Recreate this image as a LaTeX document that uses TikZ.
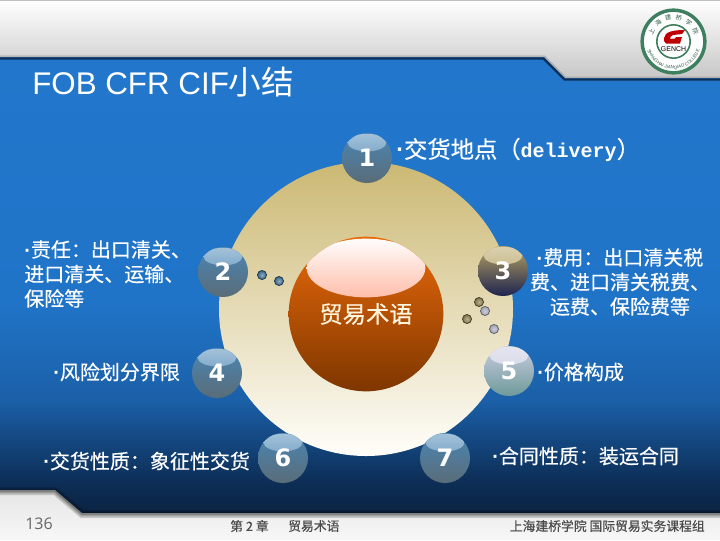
\documentclass[tikz,border=0pt]{standalone}
\usepackage{fontspec}
\setmainfont{Noto Sans CJK SC}
\setmonofont{Liberation Mono}
\newfontfamily\headfont{Liberation Sans}
\newfontfamily\digitfont{DejaVu Sans}
\newfontfamily\pagefont{Open Sans}
\newfontfamily\notefont{Noto Sans CJK SC}[FakeBold=0.4]
\newcommand{\dotmark}{{\headfont\textbf{·}}}
\usetikzlibrary{decorations.text}

\definecolor{ballBlue}{HTML}{4A86B4}
\definecolor{ballGrey}{HTML}{5A6C78}
\definecolor{ballTan}{HTML}{B5A261}
\definecolor{ballNavy}{HTML}{1E2450}
\definecolor{ballLilac}{HTML}{C9CCE0}
\definecolor{ballTeal}{HTML}{6F9A9A}
\definecolor{sealGreen}{HTML}{3E7F60}
\definecolor{skyDeep}{HTML}{0A2240}
\definecolor{skyDark}{HTML}{0D2F58}
\definecolor{skyMid}{HTML}{1B60A8}
\definecolor{skyBlue}{HTML}{2074C8}
\definecolor{skyTop}{HTML}{2277CC}
\definecolor{plateTop}{HTML}{CBB873}
\definecolor{plateMid}{HTML}{E9DFBB}
\definecolor{plateLow}{HTML}{FFFEFA}
\definecolor{hubTop}{HTML}{E96A0A}
\definecolor{hubMid}{HTML}{D85A04}
\definecolor{hubLow}{HTML}{7E3600}
\definecolor{hubGlow}{HTML}{FF5A28}
\definecolor{hubPink}{HTML}{FFA090}
\definecolor{hubText}{HTML}{FFF5DD}

\pgfdeclareverticalshading{slideblue}{100bp}{color(0bp)=(skyDeep);color(25bp)=(skyDeep);color(28.8bp)=(skyDark);color(37.4bp)=(skyMid);color(48bp)=(skyBlue);color(75bp)=(skyTop);color(100bp)=(skyTop)}

\tikzset{
  note/.style={text=white,inner sep=0pt,font=\notefont\fontsize{15pt}{18.4pt}\selectfont},
  ball/.style 2 args={circle,minimum size=37.5pt,inner sep=0pt,text=white,
    font=\digitfont\bfseries\fontsize{18pt}{18pt}\selectfont,
    top color=#1,bottom color=#2,path picture={
      \shade[top color=#1!50!white,middle color=white!85!#1,bottom color=#1] ([yshift=-7.2pt]path picture bounding box.north) ellipse [x radius=14.6pt,y radius=6.6pt];}},
  speck/.style={circle,minimum size=6.8pt,inner sep=0pt,inner color=#1!55!white,outer color=#1,draw=#1!60!black,line width=0.6pt},
  footer/.style={text=black!70,inner sep=0pt,font=\notefont\fontsize{9.6pt}{11pt}\selectfont},
}

\begin{document}
\begin{tikzpicture}[x=0.75pt,y=0.75pt,yscale=-1,xscale=1]
\useasboundingbox (0,0) rectangle (720,540);

% slide background
\shade[shading=slideblue] (0,50) rectangle (720,515);
\shade[top color=white,bottom color=black!22] (0,0) -- (720,0) -- (720,78) -- (565,78) -- (544,57) -- (0,57) -- cycle;
\draw[black!25,line width=1.5pt] (0,0) -- (720,0);
\draw[black!35,line width=0.75pt] (0,56) -- (544.5,56) -- (565.5,77) -- (720,77);
\draw[skyDark,line width=1.6pt] (0,58.5) -- (543.5,58.5) -- (564.5,79.5) -- (720,79.5);
\shade[top color=black!10,bottom color=black!3] (0,490) -- (55,490) -- (82,513) -- (720,513) -- (720,540) -- (0,540) -- cycle;
\foreach \wd in {6,4,2,1}
  \draw[black,opacity=0.15,line width=\wd pt] (0,491) -- (55,491) -- (82,514) -- (720,514);

% college seal
\node[circle,minimum size=47pt,inner sep=0pt,fill=white,draw=sealGreen,line width=2.6pt] (seal) at (673.5,41.5) {};
\node[circle,minimum size=25pt,inner sep=0pt,fill=white,draw=sealGreen,line width=1.2pt] (sealcore) at (673.5,41.5) {};
\foreach \ang/\ch in {155/上,129/海,103/建,77/桥,51/学,25/院}
  \node[text=sealGreen!70!black,rotate=\ang-90,inner sep=0pt,font=\fontsize{4.6pt}{5pt}\selectfont] at ([shift={(-\ang:18.2pt)}]seal.center) {\ch};
\path[postaction={decorate,decoration={text along path,text align=center,
  text={|\headfont\fontsize{3.4pt}{4pt}\selectfont\color{sealGreen!70!black}|SHANGHAI JIANQIAO COLLEGE}}}]
  ([shift={(-195:20.6pt)}]seal.center) arc[start angle=-195,end angle=-345,radius=20.6pt];
\fill[red!75!black] (664,38) .. controls (665,32) and (672,30) .. (685,30) -- (682,34) -- (673,35) .. controls (671,36) and (670,37) .. (670,39) -- (675,38.5) -- (676,37) -- (682,37) -- (680,43.5) -- (666,43.5) .. controls (664,43) and (664,40) .. (664,38) -- cycle;
\node[text=black,inner sep=0pt,font=\headfont\fontsize{5.2pt}{6pt}\selectfont] (sealname) at (673.5,49) {GENCH};

% title
\node[text=white,inner sep=0pt,anchor=base west,font=\fontsize{23.5pt}{26pt}\selectfont] (title) at (32,94) {{\headfont FOB CFR CIF}\fontsize{24.5pt}{26pt}\selectfont 小结};

% big plate and middle sphere
\node[circle,minimum size=220.5pt,inner sep=0pt,top color=plateTop,middle color=plateMid,bottom color=plateLow] (plate) at (366,309) {};
\node[circle,minimum size=116pt,inner sep=0pt,top color=hubTop,middle color=hubMid,bottom color=hubLow,text=hubText,font=\notefont\fontsize{17.5pt}{20pt}\selectfont,path picture={
    \shade[top color=white,middle color=hubPink,bottom color=hubGlow] ([yshift=-23.5pt]path picture bounding box.north) ellipse [x radius=44.5pt,y radius=22pt];}] (hub) at (366,314) {贸易术语};

% six small dots
\node[speck=ballBlue!75!black] (dotA) at (262,275) {};
\node[speck=ballBlue!75!black] (dotB) at (279,281) {};
\node[speck=ballTan!70!black] (dotC) at (479,302) {};
\node[speck=ballLilac!80!black] (dotD) at (485,311) {};
\node[speck=ballTan!70!black] (dotE) at (467,319) {};
\node[speck=ballLilac!80!black] (dotF) at (494,329) {};

% numbered balls
\node[ball={ballBlue}{ballGrey}] (one) at (367,158) {1};
\node[ball={ballBlue}{ballGrey}] (two) at (223,272) {2};
\node[ball={ballTan}{ballNavy}] (three) at (503,271) {3};
\node[ball={ballBlue}{ballGrey}] (four) at (217,373) {4};
\node[ball={ballLilac}{ballTeal}] (five) at (509,371) {5};
\node[ball={ballBlue}{ballGrey}] (six) at (283,458) {6};
\node[ball={ballBlue}{ballGrey}] (seven) at (445,458) {7};

% text nodes
\node[note,anchor=west,font=\notefont\fontsize{17.5pt}{20pt}\selectfont] (place) at (396,150) {\dotmark 交货地点（{\ttfamily\bfseries\fontsize{15pt}{20pt}\selectfont delivery}）};
\node[note,anchor=north west,align=left] (duty) at (24,240) {\dotmark 责任：出口清关、\\进口清关、运输、\\保险等};
\node[note,align=center] (cost) at (620,282) {\dotmark 费用：出口清关税\\费、进口清关税费、\\运费、保险费等};
\node[note,anchor=west] (risk) at (53,372) {\dotmark 风险划分界限};
\node[note,anchor=west] (price) at (537,372) {\dotmark 价格构成};
\node[note,anchor=west] (goods) at (43,461) {\dotmark 交货性质：象征性交货};
\node[note,anchor=west] (deal) at (492,456) {\dotmark 合同性质：装运合同};

% footer
\node[inner sep=0pt,anchor=west,text=black!60,font=\pagefont\fontsize{12pt}{14pt}\selectfont] (page) at (25,524) {136};
\node[footer,anchor=west] (chapter) at (230,526) {第 2 章};
\node[footer,anchor=west] (topic) at (288,526) {贸易术语};
\node[footer,anchor=east] (school) at (705,526) {上海建桥学院 国际贸易实务课程组};

\end{tikzpicture}
\end{document}
